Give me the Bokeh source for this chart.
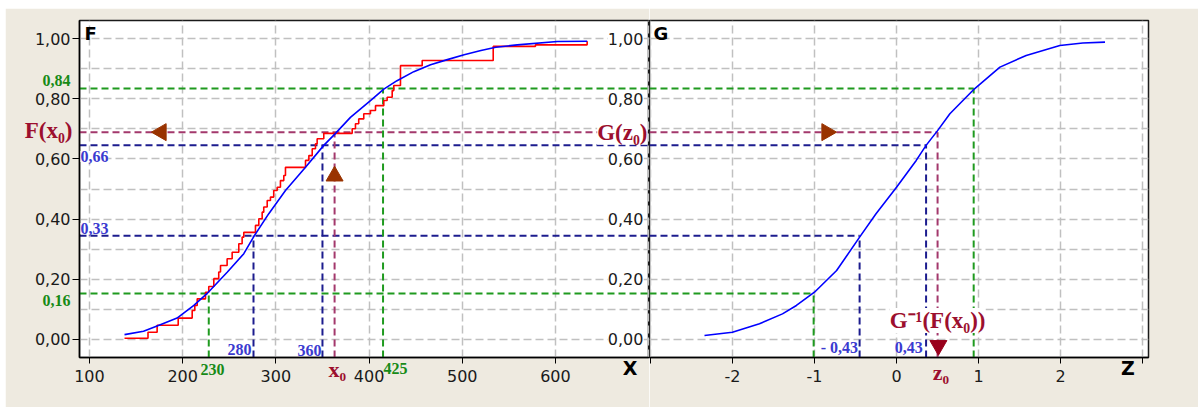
from math import pi
from bokeh.plotting import figure
from bokeh.models import FixedTicker, CustomJSTickFormatter, Label, Grid, GridBox
from bokeh.core.properties import value
from bokeh.embed import file_html
from bokeh.resources import INLINE

# ---------------- data ----------------
# empirical distribution function (red staircase): jump position, level after jump
ecdf_x = [137.6, 162.8, 172.6, 195.2, 210.2, 213.0, 215.6, 224.5, 228.0, 233.4,
          238.7, 240.6, 247.7, 253.1, 260.2, 263.8, 265.6, 278.1, 281.7, 285.3,
          287.0, 290.7, 294.2, 297.7, 301.4, 304.9, 308.5, 310.3, 331.8, 335.4,
          339.0, 342.5, 344.3, 351.4, 381.9, 385.4, 388.9, 394.3, 401.5, 406.9,
          415.8, 419.4, 424.8, 426.5, 433.7, 457.0, 533.2, 578.5, 634.0]
ecdf_y = [0.004, 0.024, 0.047, 0.071, 0.096, 0.113, 0.135, 0.157, 0.176, 0.202,
          0.224, 0.246, 0.268, 0.290, 0.318, 0.340, 0.356, 0.379, 0.401, 0.423,
          0.440, 0.462, 0.473, 0.495, 0.506, 0.528, 0.545, 0.572, 0.595, 0.611,
          0.634, 0.650, 0.667, 0.685, 0.700, 0.717, 0.733, 0.750, 0.761, 0.777,
          0.794, 0.805, 0.827, 0.844, 0.910, 0.927, 0.974, 0.979, 0.991]

# smooth distribution F (blue, left panel)
fit_x = [137.6, 158, 176, 194, 212, 226, 248, 265.6, 276.3, 292.4, 310.3, 331.8,
         351.4, 364, 380, 401.5, 415.8, 430, 448, 466, 484, 502, 520, 536, 559,
         602, 634]
fit_y = [0.016, 0.027, 0.049, 0.071, 0.113, 0.152, 0.224, 0.285, 0.342, 0.418,
         0.495, 0.572, 0.645, 0.685, 0.738, 0.794, 0.832, 0.860, 0.890, 0.913,
         0.930, 0.946, 0.960, 0.971, 0.979, 0.990, 0.991]

# distribution G (blue, right panel)
norm_z = [-2.34, -2.0, -1.67, -1.39, -1.22, -1.0, -0.73, -0.45, -0.25, 0.0, 0.24,
          0.36, 0.50, 0.65, 0.95, 1.26, 1.58, 1.99, 2.27, 2.54]
norm_g = [0.013, 0.024, 0.052, 0.085, 0.113, 0.157, 0.229, 0.340, 0.418, 0.506,
          0.595, 0.645, 0.694, 0.750, 0.833, 0.905, 0.944, 0.977, 0.985, 0.988]

# projection guides: probability level, x on the left panel, z on the right panel
guide_level = [0.153, 0.345, 0.645, 0.689, 0.834]
guide_x = [228, 276, 350, 363, 415]
guide_z = [-1.01, -0.45, 0.36, 0.50, 0.94]
guide_kind = ["green", "blue", "blue", "magenta", "green"]

# arrows
arrow_left_x = [177, 363]
arrow_left_y = [0.689, 0.543]
arrow_left_dir = ["left", "up"]
arrow_right_z = [-0.85, 0.51]
arrow_right_y = [0.689, -0.02]
arrow_right_dir = ["right", "down"]

# axes
x_ticks = [100, 200, 300, 400, 500, 600]
x_grid = [100, 200, 300, 400, 500, 600, 700]
z_ticks = [-3, -2, -1, 0, 1, 2, 3]
y_ticks = [0.0, 0.2, 0.4, 0.6, 0.8, 1.0]
y_grid = [0.0, 0.1, 0.2, 0.3, 0.4, 0.5, 0.6, 0.7, 0.8, 0.9, 1.0]
y_tick_labels = ["0,00", "0,20", "0,40", "0,60", "0,80", "1,00"]

# ---------------- styling / geometry ----------------
BEIGE = "#eeeae0"
GRID = "#c0c0c0"
COL = {"green": "#1f9a1f", "blue": "#1c1c8e", "magenta": "#a3386c"}
LBL_GREEN = "#178a17"
LBL_BLUE = "#3a3ad0"
DARKRED = "#9c0f2e"
ARROW = "#993300"
ANGLE = {"left": pi / 2, "up": 0.0, "right": -pi / 2, "down": pi}
SERIF = "Liberation Serif"
SANS = "DejaVu Sans"

X_RANGE = (89.3, 700.9)
Z_RANGE = (-3.01, 3.07)
Y_RANGE = (-0.06, 1.06)

H = 399
W1, W2 = 644, 549
B_LEFT, B_TOP, B_BOTTOM, B_RIGHT2 = 74, 12, 50, 50
FW1 = W1 - B_LEFT
FW2 = W2 - B_RIGHT2
FH = H - B_TOP - B_BOTTOM

y_fmt = CustomJSTickFormatter(code="return tick.toFixed(2).replace('.', ',');")
z_fmt = CustomJSTickFormatter(code="return (Math.abs(tick) > 2.5) ? '' : tick.toFixed(0);")


def style_common(p):
    p.background_fill_color = "white"
    p.border_fill_color = BEIGE
    p.outline_line_color = "#1a1a1a"
    p.outline_line_width = 1.5
    for ax in p.axis:
        ax.axis_line_color = "black"
        ax.axis_line_width = 1.5
        ax.major_tick_line_color = "black"
        ax.major_tick_line_width = 1
        ax.minor_tick_line_color = None
        ax.major_tick_in = 0
        ax.major_label_text_font = SANS
        ax.major_label_text_font_size = "16px"
        ax.major_label_text_color = "#1a1a1a"
    for g in p.grid:
        g.grid_line_color = GRID
        g.grid_line_dash = "8 4"
        g.grid_line_width = 1.5


def overlay(width, xr, yr):
    o = figure(width=width, height=H, x_range=xr, y_range=yr, min_border=0,
               x_axis_location=None, y_axis_location=None, title=None,
               output_backend="svg", toolbar_location=None)
    o.frame_align = False
    o.background_fill_alpha = 0
    o.border_fill_alpha = 0
    o.outline_line_color = None
    o.grid.visible = False
    return o


def lab(p, x, y, text, color, size, align="left", baseline="middle",
        font=SERIF, bg=None):
    p.add_layout(Label(x=x, y=y, text=text, text_color=color,
                       text_font=font, text_font_style="bold",
                       text_font_size=size, text_align=align,
                       text_baseline=baseline, background_fill_color=bg))


n = len(guide_level)
gcol = [COL[k] for k in guide_kind]

# ---------------- left panel ----------------
p1 = figure(width=W1, height=H, x_range=X_RANGE, y_range=Y_RANGE,
            min_border_left=B_LEFT, min_border_right=0, min_border_top=B_TOP,
            min_border_bottom=B_BOTTOM, output_backend="svg", toolbar_location=None)
p1.frame_align = False
p1.xaxis.ticker = FixedTicker(ticks=x_ticks)
p1.yaxis.ticker = FixedTicker(ticks=y_ticks)
p1.yaxis.formatter = y_fmt
p1.xgrid.ticker = FixedTicker(ticks=x_grid)
p1.ygrid.ticker = FixedTicker(ticks=y_grid)
style_common(p1)
p1.xaxis.major_tick_out = 6
p1.xaxis.major_label_standoff = 6
p1.yaxis.major_tick_out = 7
p1.yaxis.major_label_standoff = 2

p1.segment(x0=[X_RANGE[0]] * n, y0=guide_level, x1=[X_RANGE[1]] * n, y1=guide_level,
           line_color=gcol, line_dash="7 4", line_width=2)
p1.segment(x0=guide_x, y0=[Y_RANGE[0]] * n, x1=guide_x, y1=guide_level,
           line_color=gcol, line_dash="7 4", line_width=2)

p1.step(ecdf_x, ecdf_y, mode="after", line_color="#ff0000", line_width=1.6)
p1.line(fit_x, fit_y, line_color="#0000ff", line_width=1.6)

p1.scatter(arrow_left_x, arrow_left_y, marker="triangle", size=17,
           angle=[ANGLE[d] for d in arrow_left_dir], fill_color=ARROW,
           line_color=ARROW)

# tick labels of the right panel's probability axis (they sit inside this frame)
p1.text(x=[694.4] * len(y_ticks), y=y_ticks, text=y_tick_labels,
        text_align="right", text_baseline="middle", text_font=value(SANS),
        text_font_size="16px", text_color="#1a1a1a",
        background_fill_color="white")

# ---------------- right panel ----------------
p2 = figure(width=W2, height=H, x_range=Z_RANGE, y_range=Y_RANGE,
            min_border_left=0, min_border_right=B_RIGHT2, min_border_top=B_TOP,
            min_border_bottom=B_BOTTOM, y_axis_location=None,
            output_backend="svg", toolbar_location=None)
p2.frame_align = False
p2.xaxis.ticker = FixedTicker(ticks=z_ticks)
p2.xaxis.formatter = z_fmt
p2.xgrid.ticker = FixedTicker(ticks=z_ticks)
if len(p2.ygrid) == 0:
    p2.add_layout(Grid(dimension=1, ticker=FixedTicker(ticks=y_grid)))
else:
    p2.ygrid.ticker = FixedTicker(ticks=y_grid)
style_common(p2)
p2.xaxis.major_tick_out = 6
p2.xaxis.major_label_standoff = 6

p2.segment(x0=[Z_RANGE[0]] * n, y0=guide_level, x1=guide_z, y1=guide_level,
           line_color=gcol, line_dash="7 4", line_width=2)
p2.segment(x0=guide_z, y0=[Y_RANGE[0]] * n, x1=guide_z, y1=guide_level,
           line_color=gcol, line_dash="7 4", line_width=2)

p2.line(norm_z, norm_g, line_color="#0000ff", line_width=1.6)

p2.scatter(arrow_right_z, arrow_right_y, marker="triangle", size=17,
           angle=[ANGLE[d] for d in arrow_right_dir],
           fill_color=[ARROW, "#99001c"], line_color=[ARROW, "#99001c"])

# ---------------- transparent overlays carrying the annotation texts ----------------
ky = (Y_RANGE[1] - Y_RANGE[0]) / FH
oy = (Y_RANGE[0] - B_BOTTOM * ky, Y_RANGE[1] + B_TOP * ky)
kx1 = (X_RANGE[1] - X_RANGE[0]) / FW1
o1 = overlay(W1, (X_RANGE[0] - B_LEFT * kx1, X_RANGE[1]), oy)
kx2 = (Z_RANGE[1] - Z_RANGE[0]) / FW2
o2 = overlay(W2, (Z_RANGE[0], Z_RANGE[1] + B_RIGHT2 * kx2), oy)

lab(o1, 94.6, 1.053, "F", "black", "18px", baseline="top", font=SANS)
lab(o1, 79.6, 0.859, "0,84", LBL_GREEN, "16px", align="right")
lab(o1, 81.8, 0.694, "F(x₀)", DARKRED, "23px", align="right")
lab(o1, 90.3, 0.608, "0,66", LBL_BLUE, "16px", bg="white")
lab(o1, 90.3, 0.369, "0,33", LBL_BLUE, "16px", bg="white")
lab(o1, 79.6, 0.128, "0,16", LBL_GREEN, "16px", align="right")
lab(o1, 232, -0.10, "230", LBL_GREEN, "16px", align="center")
lab(o1, 273.8, -0.032, "280", LBL_BLUE, "16px", align="right")
lab(o1, 348.9, -0.037, "360", LBL_BLUE, "16px", align="right")
lab(o1, 356.4, -0.10, "x₀", DARKRED, "22px")
lab(o1, 415.5, -0.095, "425", LBL_GREEN, "16px")
lab(o1, 698.7, 0.689, "G(z₀)", DARKRED, "23px", align="right", bg="white")
lab(o1, 680, -0.095, "X", "black", "19px", align="center", font=SANS)

lab(o2, -2.96, 1.053, "G", "black", "18px", baseline="top", font=SANS)
lab(o2, -0.47, -0.028, "- 0,43", LBL_BLUE, "16px", align="right")
lab(o2, 0.32, -0.028, "0,43", LBL_BLUE, "16px", align="right")
lab(o2, 0.50, 0.063, "G⁻¹(F(x₀))", DARKRED, "23px", align="center", bg="white")
lab(o2, 0.54, -0.11, "z₀", DARKRED, "22px", align="center")
lab(o2, 2.82, -0.095, "Z", "black", "19px", align="center", font=SANS)

layout = GridBox(children=[(p1, 0, 0), (p2, 0, 1), (o1, 0, 0), (o2, 0, 1)],
                 margin=(8, 0, 0, 5))
open("out.html", "w").write(file_html(layout, INLINE))
